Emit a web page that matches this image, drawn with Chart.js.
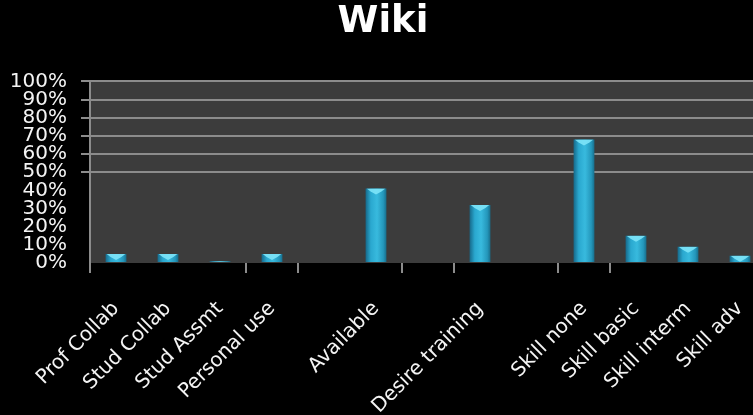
<!DOCTYPE html>
<html>
<head>
<meta charset="utf-8">
<title>Wiki</title>
<script src="https://cdn.jsdelivr.net/npm/chart.js@4/dist/chart.umd.min.js"></script>
<style>
  html, body { margin: 0; padding: 0; background: #000; overflow: hidden; }
  #wrap { width: 768px; height: 415px; position: relative; }
</style>
</head>
<body>
<div id="wrap"><canvas id="wikiChart"></canvas></div>
<script>
// survey answers, blank slots separate the question groups
const categories = ['Prof Collab', 'Stud Collab', 'Stud Assmt', 'Personal use', '', 'Available', '', 'Desire training', '', 'Skill none', 'Skill basic', 'Skill interm', 'Skill adv'];
const percentValues = [5, 5, 1, 5, null, 41, null, 32, null, 68, 15, 9, 4];
const yTickValues = [0, 10, 20, 30, 40, 50, 60, 70, 80, 90, 100];

const GRID_GRAY = '#8c8c8c';
const NONE = 'rgba(0,0,0,0)';
// x tick marks that show under the axis (gridline index)
const shownXTicks = [0, 3, 4, 6, 7, 9, 10];

// dark plot background
const plotBg = {
  id: 'plotBg',
  beforeDraw(chart) {
    const { ctx, chartArea: a } = chart;
    ctx.save();
    ctx.fillStyle = '#3c3c3c';
    ctx.fillRect(a.left, a.top, a.right - a.left, a.bottom - a.top);
    ctx.restore();
  }
};

// light bevel on top of each bar
const barCaps = {
  id: 'barCaps',
  afterDatasetsDraw(chart) {
    const ctx = chart.ctx;
    chart.getDatasetMeta(0).data.forEach(bar => {
      const p = bar.getProps(['x', 'y', 'base', 'width'], true);
      if (p.y == null || isNaN(p.y)) return;
      const h = p.base - p.y;
      if (h <= 0.5) return;
      const capH = Math.min(6, h);
      ctx.save();
      ctx.beginPath();
      ctx.rect(p.x - p.width / 2, p.y, p.width, h);
      ctx.clip();
      ctx.fillStyle = 'rgba(125,228,248,0.9)';
      ctx.beginPath();
      ctx.moveTo(p.x - p.width / 2 + 1, p.y);
      ctx.lineTo(p.x + p.width / 2 - 1, p.y);
      ctx.lineTo(p.x + p.width / 2 - 5, p.y + capH * 0.5);
      ctx.lineTo(p.x, p.y + capH);
      ctx.lineTo(p.x - p.width / 2 + 5, p.y + capH * 0.5);
      ctx.closePath();
      ctx.fill();
      ctx.restore();
    });
  }
};

function barFill(c) {
  const chart = c.chart;
  const xs = chart.scales.x;
  if (!xs || c.dataIndex === undefined || !xs.width) return '#2aa7cc';
  const cx = xs.getPixelForValue(c.dataIndex);
  const half = xs.width / categories.length * 0.2;
  const g = chart.ctx.createLinearGradient(cx - half, 0, cx + half, 0);
  g.addColorStop(0, '#16698a');
  g.addColorStop(0.25, '#2aa8cf');
  g.addColorStop(0.55, '#38bade');
  g.addColorStop(0.85, '#2497bb');
  g.addColorStop(1, '#176e8c');
  return g;
}

Chart.defaults.color = '#ffffff';

new Chart(document.getElementById('wikiChart'), {
  type: 'bar',
  data: {
    labels: categories,
    datasets: [{
      data: percentValues,
      backgroundColor: barFill,
      borderWidth: 0,
      barPercentage: 0.4,
      categoryPercentage: 1
    }]
  },
  plugins: [plotBg, barCaps],
  options: {
    responsive: true,
    maintainAspectRatio: false,
    animation: false,
    layout: { padding: { left: 0, right: 2, top: 0, bottom: 0 } },
    plugins: {
      legend: { display: false },
      tooltip: { enabled: false },
      title: {
        display: true,
        text: 'Wiki',
        color: '#ffffff',
        font: { family: 'DejaVu Sans', size: 37, weight: 'bold' },
        padding: { top: 0, bottom: 37 }
      }
    },
    scales: {
      x: {
        // fixed band for the slanted labels, no extra side padding
        afterFit: s => { s.height = 152; s.paddingLeft = 0; s.paddingRight = 0; },
        border: { display: false },
        grid: {
          offset: true,
          drawOnChartArea: false,
          drawTicks: true,
          tickLength: 10,
          lineWidth: 2,
          color: c => shownXTicks.includes(c.index) ? GRID_GRAY : NONE
        },
        ticks: {
          autoSkip: false,
          maxRotation: 45,
          minRotation: 45,
          padding: 24,
          color: '#f4f4f4',
          font: { family: 'DejaVu Sans', size: 20 }
        }
      },
      y: {
        min: 0,
        max: 100,
        afterFit: s => { s.width = 90; },
        afterBuildTicks: s => { s.ticks = yTickValues.map(v => ({ value: v })); },
        border: { display: true, color: GRID_GRAY, width: 2 },
        grid: {
          lineWidth: 2,
          tickLength: 9,
          color: c => (c.tick && c.tick.value >= 50) ? GRID_GRAY : NONE
        },
        ticks: {
          autoSkip: false,
          padding: 14,
          color: '#f4f4f4',
          font: { family: 'DejaVu Sans', size: 20 },
          callback: v => v + '%'
        }
      }
    }
  }
});
</script>
</body>
</html>
